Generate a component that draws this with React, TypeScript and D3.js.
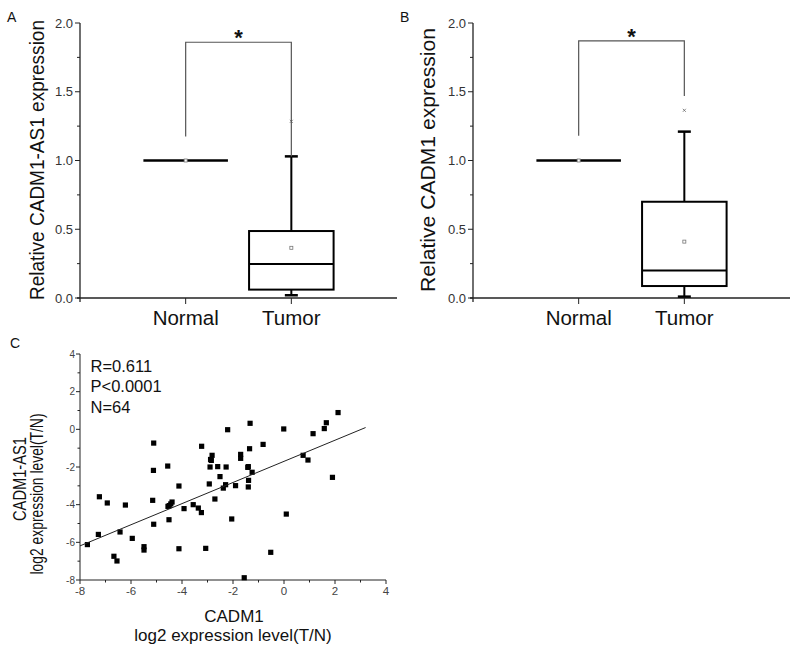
import React, { useRef, useEffect } from "react";
import * as d3 from "d3";

// box statistics, order: [lowWhisker, q1, median, q3, highWhisker, mean, outlier]
const groups = ["Normal", "Tumor"];
const asNormal = [1, 1, 1, 1, 1, 1, null];
const asTumor = [0.02, 0.061, 0.248, 0.487, 1.03, 0.365, 1.285];
const cadmNormal = [1, 1, 1, 1, 1, 1, null];
const cadmTumor = [0.01, 0.087, 0.2, 0.7, 1.21, 0.41, 1.365];

// significance bracket: [top, left leg end, right leg end]
const bracketA = [1.86, 1.175, 1.03];
const bracketB = [1.87, 1.18, 1.47];

const boxTicks = [0, 0.5, 1, 1.5, 2];

// scatter (panel C)
const cadm1Log2 = [
  -7.71, -7.28, -7.24, -6.93, -6.22, -6.43, -6.67, -6.55, -5.95, -5.49, -5.49,
  -5.11, -5.12, -5.15, -5.11, -4.56, -4.51, -4.55, -4.44, -4.39, -4.12, -4.12,
  -3.92, -3.56, -3.36, -3.24, -3.23, -3.07, -2.9, -2.93, -2.85, -2.82, -2.71,
  -2.6, -2.51, -2.38, -2.29, -2.27, -2.21, -2.05, -1.9, -1.7, -1.7, -1.56,
  -1.4, -1.39, -1.4, -1.35, -1.33, -1.25, -0.82, -0.52, -0.01, 0.09, 0.75,
  0.94, 1.14, 1.58, 1.66, 1.9, 2.12, -4.5, -2.88, -1.42,
];
const cadm1AsLog2 = [
  -6.12, -5.58, -3.58, -3.91, -4.02, -5.45, -6.74, -6.99, -5.79, -6.23, -6.41,
  -0.73, -2.18, -3.77, -5.04, -1.95, -4.8, -4.09, -3.96, -3.86, -3.01, -6.34,
  -4.21, -4.0, -4.18, -4.42, -0.9, -6.32, -2.0, -2.9, -1.65, -1.38, -3.7,
  -1.98, -2.51, -3.12, -2.94, -2.0, -0.02, -4.76, -2.99, -1.33, -1.54, -7.88,
  -1.98, -2.71, -3.06, -1.03, 0.32, -2.28, -0.8, -6.53, 0.02, -4.5, -1.38,
  -1.63, -0.23, 0.04, 0.35, -2.55, 0.89, -4.05, -1.6, -2.02,
];
const scatterTicks = [-8, -6, -4, -2, 0, 2, 4];
const fitSlope = 0.561;
const fitIntercept = -1.7;
const fitRange = [-8, 3.2];
const statLines = ["R=0.611", "P<0.0001", "N=64"];

const font = "'Liberation Sans', Arial, sans-serif";

const drawBoxPanel = (svg, opts) => {
  const { left, label, title, titleX, titleLen, normal, tumor, bracket } = opts;
  const top = 23;
  const bottom = 298;

  const x = d3.scaleLinear().domain([0, 3]).range([left, left + 317]);
  const y = d3.scaleLinear().domain([0, 2]).range([bottom, top]);
  const g = svg.append("g");

  // y axis with minor ticks
  g.append("line")
    .attr("x1", left).attr("x2", left)
    .attr("y1", y(0) + 4).attr("y2", y(2))
    .attr("stroke", "#222").attr("stroke-width", 1.3);
  g.selectAll(".minor")
    .data(d3.range(0.25, 2, 0.5))
    .enter()
    .append("line")
    .attr("x1", left - 3).attr("x2", left)
    .attr("y1", (d) => y(d)).attr("y2", (d) => y(d))
    .attr("stroke", "#222");
  g.selectAll(".major")
    .data(boxTicks)
    .enter()
    .append("line")
    .attr("x1", left - 5).attr("x2", left)
    .attr("y1", (d) => y(d)).attr("y2", (d) => y(d))
    .attr("stroke", "#222");
  g.selectAll(".ylab")
    .data(boxTicks)
    .enter()
    .append("text")
    .attr("x", left - 7)
    .attr("y", (d) => y(d) + 4.5)
    .attr("text-anchor", "end")
    .style("font-size", "13px")
    .style("fill", "#333")
    .text((d) => d3.format(".1f")(d));

  // x axis
  g.append("line")
    .attr("x1", left - 3).attr("x2", x(3))
    .attr("y1", bottom).attr("y2", bottom)
    .attr("stroke", "#222").attr("stroke-width", 1.3);
  g.selectAll(".xtick")
    .data(groups)
    .enter()
    .append("line")
    .attr("x1", (d, i) => x(i + 1)).attr("x2", (d, i) => x(i + 1))
    .attr("y1", bottom).attr("y2", bottom + 6)
    .attr("stroke", "#222");
  g.selectAll(".xlab")
    .data(groups)
    .enter()
    .append("text")
    .attr("x", (d, i) => x(i + 1))
    .attr("y", 325)
    .attr("text-anchor", "middle")
    .style("font-size", "20.5px")
    .style("fill", "#111")
    .text((d) => d);

  // boxes
  const half = x(0.4) - x(0);
  [normal, tumor].forEach((s, i) => {
    const cx = x(i + 1);
    const [lo, q1, med, q3, hi, mean, out] = s;
    if (q3 - q1 > 0) {
      g.append("line")
        .attr("x1", cx).attr("x2", cx).attr("y1", y(hi)).attr("y2", y(q3))
        .attr("stroke", "#000").attr("stroke-width", 2);
      g.append("line")
        .attr("x1", cx).attr("x2", cx).attr("y1", y(q1)).attr("y2", y(lo))
        .attr("stroke", "#000").attr("stroke-width", 2);
      [hi, lo].forEach((w) => {
        g.append("line")
          .attr("x1", cx - 6.5).attr("x2", cx + 6.5)
          .attr("y1", y(w)).attr("y2", y(w))
          .attr("stroke", "#000").attr("stroke-width", 2.5);
      });
      g.append("rect")
        .attr("x", cx - half).attr("y", y(q3))
        .attr("width", half * 2).attr("height", y(q1) - y(q3))
        .attr("fill", "none").attr("stroke", "#000").attr("stroke-width", 2);
    }
    g.append("line")
      .attr("x1", cx - half).attr("x2", cx + half)
      .attr("y1", y(med)).attr("y2", y(med))
      .attr("stroke", "#000").attr("stroke-width", q3 - q1 > 0 ? 2 : 2.5);
    g.append("rect")
      .attr("x", cx - 1.5).attr("y", y(mean) - 1.5)
      .attr("width", 3).attr("height", 3)
      .attr("fill", "#fff").attr("stroke", "#777").attr("stroke-width", 0.8);
    if (out != null) {
      g.append("path")
        .attr("d", `M${cx - 1.5},${y(out) - 1.5}L${cx + 1.5},${y(out) + 1.5}M${cx + 1.5},${y(out) - 1.5}L${cx - 1.5},${y(out) + 1.5}`)
        .attr("stroke", "#666").attr("stroke-width", 0.8);
    }
  });

  // significance bracket
  const [bt, bl, br] = bracket;
  g.append("path")
    .attr("d", `M${x(1)},${y(bl)}V${y(bt)}H${x(2)}V${y(br)}`)
    .attr("fill", "none").attr("stroke", "#555").attr("stroke-width", 1.2);
  g.append("text")
    .attr("x", (x(1) + x(2)) / 2)
    .attr("y", y(bt) + 3)
    .attr("text-anchor", "middle")
    .style("font-size", "22px")
    .style("font-weight", "bold")
    .style("fill", "#111")
    .text("*");

  // panel letter and axis title
  g.append("text")
    .attr("x", left - 73).attr("y", 22)
    .style("font-size", "14px").style("fill", "#111")
    .text(label);
  g.append("text")
    .attr("transform", `translate(${titleX}, 160) rotate(-90)`)
    .attr("text-anchor", "middle")
    .attr("textLength", titleLen)
    .attr("lengthAdjust", "spacingAndGlyphs")
    .style("font-size", "20px").style("fill", "#111")
    .text(title);
};

const drawScatter = (svg) => {
  const x = d3.scaleLinear().domain([-8, 4]).range([80, 386]);
  const y = d3.scaleLinear().domain([-8, 4]).range([580, 354]);
  const g = svg.append("g");

  g.append("line")
    .attr("x1", 80).attr("x2", 80).attr("y1", y(-8)).attr("y2", y(4))
    .attr("stroke", "#222");
  g.append("line")
    .attr("x1", 80).attr("x2", 386).attr("y1", y(-8)).attr("y2", y(-8))
    .attr("stroke", "#222");

  const minor = d3.range(-7, 4, 2);
  g.selectAll(".xt")
    .data(scatterTicks.concat(minor))
    .enter()
    .append("line")
    .attr("x1", (d) => x(d)).attr("x2", (d) => x(d))
    .attr("y1", y(-8)).attr("y2", (d) => y(-8) + (d % 2 === 0 ? 4 : 2.5))
    .attr("stroke", "#222");
  g.selectAll(".yt")
    .data(scatterTicks.concat(minor))
    .enter()
    .append("line")
    .attr("y1", (d) => y(d)).attr("y2", (d) => y(d))
    .attr("x1", 80).attr("x2", (d) => 80 - (d % 2 === 0 ? 4 : 2.5))
    .attr("stroke", "#222");
  g.selectAll(".xl")
    .data(scatterTicks)
    .enter()
    .append("text")
    .attr("x", (d) => x(d)).attr("y", y(-8) + 15)
    .attr("text-anchor", "middle")
    .style("font-size", "11.5px").style("fill", "#444")
    .text((d) => d);
  g.selectAll(".yl")
    .data(scatterTicks)
    .enter()
    .append("text")
    .attr("x", 75).attr("y", (d) => y(d) + 3.5)
    .attr("text-anchor", "end")
    .style("font-size", "10px").style("fill", "#444")
    .text((d) => d);

  // points
  g.selectAll(".pt")
    .data(cadm1Log2.map((v, i) => [v, cadm1AsLog2[i]]))
    .enter()
    .append("rect")
    .attr("x", (d) => x(d[0]) - 2.6).attr("y", (d) => y(d[1]) - 2.6)
    .attr("width", 5.2).attr("height", 5.2)
    .attr("fill", "#000");

  // linear fit
  const line = d3.line().x((d) => x(d)).y((d) => y(fitIntercept + fitSlope * d));
  g.append("path")
    .attr("d", line(fitRange))
    .attr("fill", "none").attr("stroke", "#222").attr("stroke-width", 1);

  g.selectAll(".st")
    .data(statLines)
    .enter()
    .append("text")
    .attr("x", 90.5).attr("y", (d, i) => 372 + i * 20.3)
    .style("font-size", "16.5px").style("fill", "#111")
    .text((d) => d);

  g.append("text")
    .attr("x", 10).attr("y", 348)
    .style("font-size", "14px").style("fill", "#111")
    .text("C");
  g.append("text")
    .attr("x", 234).attr("y", 622)
    .attr("text-anchor", "middle")
    .style("font-size", "17px").style("fill", "#111")
    .text("CADM1");
  g.append("text")
    .attr("x", 233).attr("y", 641)
    .attr("text-anchor", "middle")
    .style("font-size", "17px").style("fill", "#111")
    .text("log2 expression level(T/N)");
  g.append("text")
    .attr("transform", "translate(26, 479) rotate(-90)")
    .attr("text-anchor", "middle")
    .attr("textLength", 84)
    .attr("lengthAdjust", "spacingAndGlyphs")
    .style("font-size", "19px").style("fill", "#111")
    .text("CADM1-AS1");
  g.append("text")
    .attr("transform", "translate(43, 494) rotate(-90)")
    .attr("text-anchor", "middle")
    .attr("textLength", 161)
    .attr("lengthAdjust", "spacingAndGlyphs")
    .style("font-size", "19px").style("fill", "#111")
    .text("log2 expression level(T/N)");
};

const App = () => {
  const container = useRef(null);
  const width = 800;
  const height = 653;

  useEffect(() => {
    const svg = d3.select(container.current);
    svg.selectAll("*").remove();

    drawBoxPanel(svg, {
      left: 80, label: "A", title: "Relative CADM1-AS1 expression",
      titleX: 44, titleLen: 280, normal: asNormal, tumor: asTumor, bracket: bracketA,
    });
    drawBoxPanel(svg, {
      left: 473, label: "B", title: "Relative CADM1 expression",
      titleX: 435, titleLen: 264, normal: cadmNormal, tumor: cadmTumor, bracket: bracketB,
    });
    drawScatter(svg);
  }, []);

  return (
    <div style={{ position: "absolute", left: 0, top: 0, width, height, background: "#fff" }}>
      <svg ref={container} width={width} height={height} style={{ fontFamily: font, display: "block" }} />
    </div>
  );
};

export default App;
